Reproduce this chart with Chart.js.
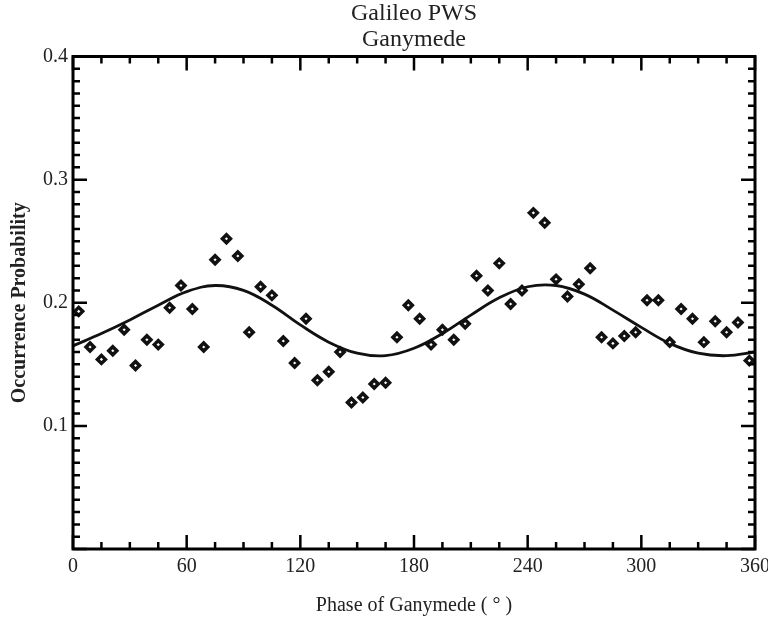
<!DOCTYPE html>
<html>
<head>
<meta charset="utf-8">
<script src="https://cdn.jsdelivr.net/npm/chart.js@4/dist/chart.umd.min.js"></script>
<style>
  html, body { margin:0; padding:0; background:#fff; }
</style>
</head>
<body>
<canvas id="chart" width="768" height="623"></canvas>
<script>
/* DATA */
const phase = [3, 9, 15, 21, 27, 33, 39, 45, 51, 57,
               63, 69, 75, 81, 87, 93, 99, 105, 111, 117,
               123, 129, 135, 141, 147, 153, 159, 165, 171, 177,
               183, 189, 195, 201, 207, 213, 219, 225, 231, 237,
               243, 249, 255, 261, 267, 273, 279, 285, 291, 297,
               303, 309, 315, 321, 327, 333, 339, 345, 351, 357];
const probability = [0.193, 0.164, 0.154, 0.161, 0.178, 0.149, 0.170, 0.166, 0.196, 0.214,
                     0.195, 0.164, 0.235, 0.252, 0.238, 0.176, 0.213, 0.206, 0.169, 0.151,
                     0.187, 0.137, 0.144, 0.160, 0.119, 0.123, 0.134, 0.135, 0.172, 0.198,
                     0.187, 0.166, 0.178, 0.170, 0.183, 0.222, 0.210, 0.232, 0.199, 0.210,
                     0.273, 0.265, 0.219, 0.205, 0.215, 0.228, 0.172, 0.167, 0.173, 0.176,
                     0.202, 0.202, 0.168, 0.195, 0.187, 0.168, 0.185, 0.176, 0.184, 0.153];

const fitPhase = [0, 15, 30, 45, 60, 75, 90, 105, 120, 135, 150, 165, 180,
                  195, 210, 225, 240, 255, 270, 285, 300, 315, 330, 345, 360];
const fitValue = [0.165, 0.175, 0.186, 0.198, 0.209, 0.214, 0.210, 0.198, 0.182, 0.168, 0.159, 0.157, 0.163,
                  0.175, 0.190, 0.204, 0.213, 0.214, 0.207, 0.194, 0.180, 0.167, 0.159, 0.157, 0.160];

const xTicks = [0, 60, 120, 180, 240, 300, 360];
const yTicks = [0.1, 0.2, 0.3, 0.4];

Chart.defaults.font.family = "'Liberation Serif', 'Times New Roman', serif";
Chart.defaults.color = "#222";

/* frame + inward ticks on all four sides */
const frameTicks = {
  id: "frameTicks",
  afterDatasetsDraw(chart) {
    const { ctx, chartArea: a, scales: { x, y } } = chart;
    ctx.save();
    ctx.strokeStyle = "#000";
    ctx.lineWidth = 2.5;
    ctx.beginPath();
    for (let v = 0; v <= 360; v += 15) {
      const len = v % 60 === 0 ? 14 : 7;
      const px = x.getPixelForValue(v);
      ctx.moveTo(px, a.bottom); ctx.lineTo(px, a.bottom - len);
      ctx.moveTo(px, a.top); ctx.lineTo(px, a.top + len);
    }
    for (let i = 0; i <= 40; i++) {
      const len = i % 10 === 0 ? 14 : 7;
      const py = y.getPixelForValue(i / 100);
      ctx.moveTo(a.left, py); ctx.lineTo(a.left + len, py);
      ctx.moveTo(a.right, py); ctx.lineTo(a.right - len, py);
    }
    ctx.stroke();
    ctx.lineWidth = 3;
    ctx.strokeRect(a.left, a.top, a.right - a.left, a.bottom - a.top);
    ctx.restore();
  }
};

new Chart(document.getElementById("chart"), {
  type: "scatter",
  data: {
    datasets: [
      {
        data: phase.map((p, i) => ({ x: p, y: probability[i] })),
        pointStyle: "rectRot",
        pointRadius: 4,
        borderWidth: 3.5,
        borderColor: "#111",
        backgroundColor: "#fff"
      },
      {
        data: fitPhase.map((p, i) => ({ x: p, y: fitValue[i] })),
        showLine: true,
        tension: 0.4,
        pointRadius: 0,
        borderWidth: 2.8,
        borderColor: "#111"
      }
    ]
  },
  options: {
    responsive: false,
    animation: false,
    layout: { autoPadding: false, padding: { right: 13 } },
    plugins: {
      legend: { display: false },
      tooltip: { enabled: false },
      title: {
        display: true,
        fullSize: false,
        text: ["Galileo PWS", "Ganymede"],
        color: "#222",
        font: { size: 24, weight: "normal", lineHeight: 26 / 24 },
        padding: { top: 1, bottom: 3.5 }
      }
    },
    scales: {
      x: {
        type: "linear",
        min: 0, max: 360,
        grid: { display: false, drawTicks: false },
        border: { display: false },
        afterBuildTicks: s => { s.ticks = xTicks.map(v => ({ value: v })); },
        afterFit: s => { s.height = 74; s.paddingLeft = 0; s.paddingRight = 0; },
        ticks: { font: { size: 20 }, padding: 6, maxRotation: 0, autoSkip: false },
        title: {
          display: true,
          text: "Phase of Ganymede ( ° )",
          font: { size: 20 },
          padding: { top: 0, bottom: 5 }
        }
      },
      y: {
        min: 0, max: 0.4,
        grid: { display: false, drawTicks: false },
        border: { display: false },
        afterBuildTicks: s => { s.ticks = yTicks.map(v => ({ value: v })); },
        afterFit: s => { s.width = 73; s.paddingTop = 0; s.paddingBottom = 0; },
        ticks: { font: { size: 20 }, padding: 5, callback: v => v.toFixed(1) },
        title: {
          display: true,
          text: "Occurrence Probability",
          font: { size: 20, weight: "bold" },
          padding: { top: 8, bottom: 0 }
        }
      }
    }
  },
  plugins: [frameTicks]
});
</script>
</body>
</html>
